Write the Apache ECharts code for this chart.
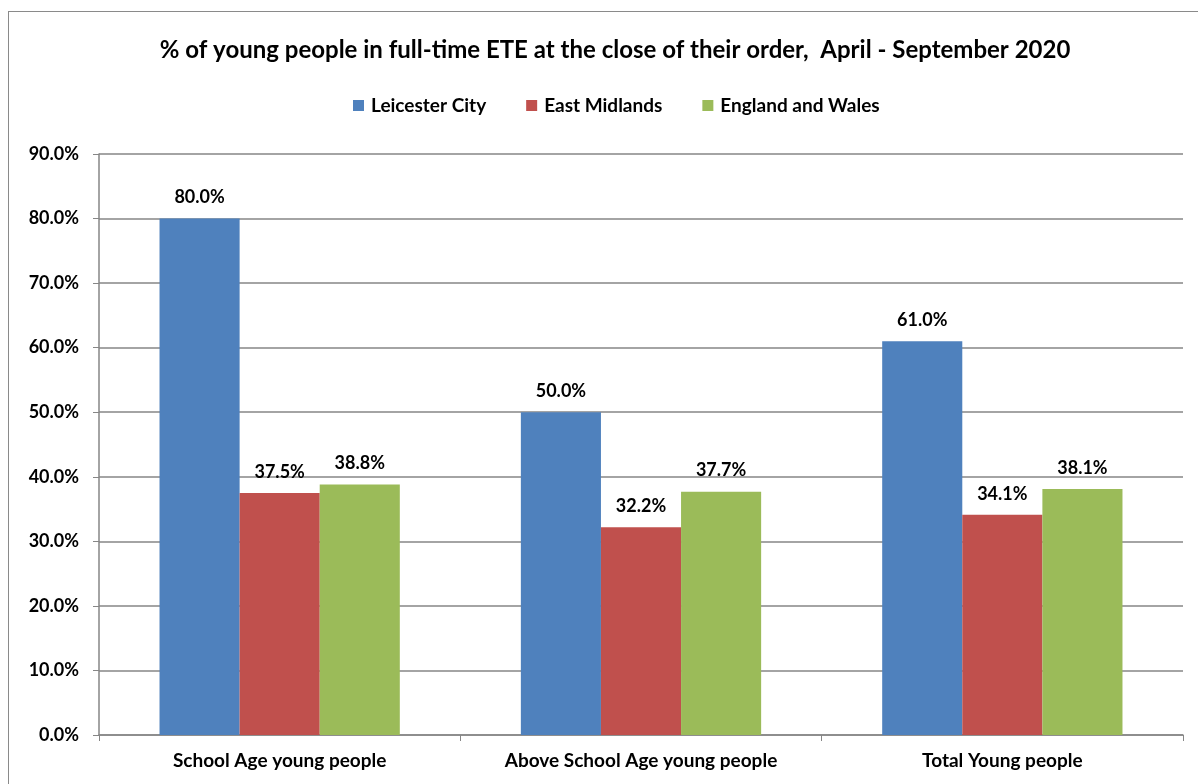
<!DOCTYPE html>
<html>
<head>
<meta charset="utf-8">
<script src="https://cdn.jsdelivr.net/npm/echarts@6/dist/echarts.min.js"></script>
<style>
  html, body { margin: 0; padding: 0; background: #fff; overflow: hidden; }
  #frame { position: absolute; left: 8px; top: 11px; width: 1300px; height: 900px; border: 1px solid #8a8a8a; }
  #chart { position: absolute; left: 0; top: 0; width: 1198px; height: 784px; }
</style>
</head>
<body>
<div id="frame"></div>
<div id="chart"></div>
<script>
const categories = ['School Age young people', 'Above School Age young people', 'Total Young people'];
const leicester = [80.0, 50.0, 61.0];
const eastMidlands = [37.5, 32.2, 34.1];
const englandWales = [38.8, 37.7, 38.1];

const chart = echarts.init(document.getElementById('chart'));
const font = 'Lato, "Open Sans", sans-serif';

const label = {
  show: true,
  position: 'top',
  distance: 12,
  color: '#000',
  fontWeight: 'bold',
  fontSize: 18,
  fontFamily: font,
  formatter: p => p.value.toFixed(1) + '%'
};

chart.setOption({
  animation: false,
  title: {
    text: '% of young people in full-time ETE at the close of their order,  April - September 2020',
    left: 610,
    textAlign: 'center',
    top: 33,
    textStyle: { fontSize: 24, fontWeight: 'bold', color: '#000', fontFamily: font }
  },
  legend: {
    top: 91,
    left: 348,
    itemWidth: 11,
    itemHeight: 11,
    itemGap: 40,
    icon: 'rect',
    textStyle: { fontSize: 19, fontWeight: 'bold', color: '#000', fontFamily: font, padding: [0, 0, 0, 2] }
  },
  grid: { left: 99, right: 15, top: 154, bottom: 49, containLabel: false },
  xAxis: {
    type: 'category',
    data: categories,
    axisLine: { lineStyle: { color: '#868686', width: 1.5 } },
    axisTick: { show: true, length: 6, lineStyle: { color: '#868686' } },
    axisLabel: { color: '#000', fontWeight: 'bold', fontSize: 19, fontFamily: font, margin: 16 }
  },
  yAxis: {
    type: 'value',
    min: 0,
    max: 90,
    interval: 10,
    axisLine: { show: true, lineStyle: { color: '#868686', width: 1.5 } },
    axisTick: { show: true, length: 6, inside: false, lineStyle: { color: '#868686' } },
    axisLabel: { color: '#000', fontWeight: 'bold', fontSize: 18, fontFamily: font, margin: 20,
      formatter: v => v.toFixed(1) + '%' },
    splitLine: { lineStyle: { color: '#868686', width: 1.5 } }
  },
  series: [
    { name: 'Leicester City', type: 'bar', data: leicester, itemStyle: { color: '#4F81BD' },
      barGap: '0%', barCategoryGap: '33.5%', label },
    { name: 'East Midlands', type: 'bar', data: eastMidlands, itemStyle: { color: '#C0504D' }, label },
    { name: 'England and Wales', type: 'bar', data: englandWales, itemStyle: { color: '#9BBB59' }, label }
  ]
});
</script>
</body>
</html>
